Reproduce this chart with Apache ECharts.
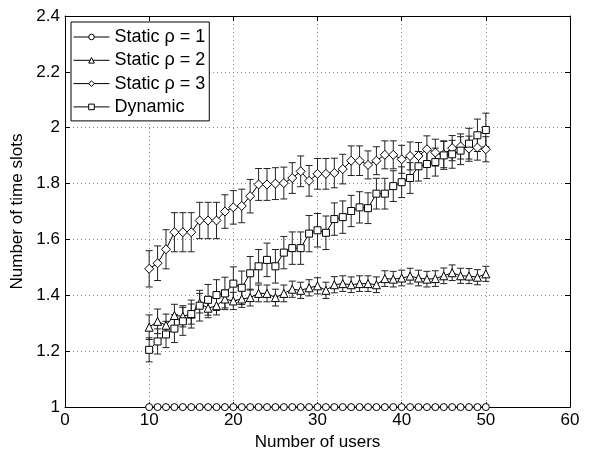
<!DOCTYPE html>
<html>
<head>
<meta charset="utf-8">
<script src="https://cdn.jsdelivr.net/npm/echarts@6/dist/echarts.min.js"></script>
<style>html,body{margin:0;padding:0;background:#fff;}#c{width:592px;height:456px;}</style>
</head>
<body>
<div id="c"></div>
<script>
const users = [10,11,12,13,14,15,16,17,18,19,20,21,22,23,24,25,26,27,28,29,30,31,32,33,34,35,36,37,38,39,40,41,42,43,44,45,46,47,48,49,50];
const rho1 = [1,1,1,1,1,1,1,1,1,1,1,1,1,1,1,1,1,1,1,1,1,1,1,1,1,1,1,1,1,1,1,1,1,1,1,1,1,1,1,1,1];
const rho2 = [1.286,1.307,1.293,1.328,1.325,1.333,1.372,1.354,1.363,1.387,1.380,1.387,1.392,1.407,1.407,1.392,1.407,1.422,1.418,1.427,1.434,1.418,1.438,1.442,1.438,1.442,1.442,1.438,1.460,1.458,1.462,1.469,1.462,1.458,1.460,1.470,1.481,1.470,1.469,1.465,1.477];
const rho3 = [1.495,1.515,1.565,1.626,1.626,1.626,1.668,1.668,1.668,1.700,1.715,1.720,1.755,1.797,1.797,1.800,1.802,1.820,1.844,1.810,1.835,1.835,1.838,1.852,1.882,1.882,1.867,1.882,1.903,1.903,1.887,1.899,1.899,1.923,1.911,1.905,1.927,1.933,1.925,1.929,1.923];
const dyn = [1.205,1.235,1.260,1.281,1.307,1.333,1.363,1.384,1.401,1.407,1.442,1.427,1.479,1.504,1.527,1.504,1.553,1.569,1.569,1.621,1.633,1.624,1.673,1.680,1.702,1.715,1.712,1.764,1.764,1.791,1.805,1.820,1.862,1.870,1.877,1.901,1.905,1.918,1.943,1.973,1.992];
const err1 = [0,0,0,0,0,0,0,0,0,0,0,0,0,0,0,0,0,0,0,0,0,0,0,0,0,0,0,0,0,0,0,0,0,0,0,0,0,0,0,0,0];
const err2 = [0.044,0.044,0.040,0.040,0.038,0.036,0.035,0.034,0.033,0.032,0.031,0.030,0.030,0.030,0.030,0.030,0.030,0.029,0.029,0.029,0.029,0.029,0.029,0.028,0.028,0.028,0.028,0.028,0.028,0.028,0.028,0.028,0.028,0.028,0.028,0.028,0.028,0.027,0.027,0.027,0.027];
const err3 = [0.065,0.062,0.070,0.070,0.070,0.070,0.065,0.065,0.065,0.060,0.060,0.060,0.060,0.057,0.057,0.057,0.057,0.055,0.055,0.055,0.055,0.055,0.053,0.053,0.053,0.053,0.050,0.050,0.050,0.050,0.050,0.050,0.048,0.048,0.048,0.048,0.045,0.045,0.045,0.045,0.045];
const errD = [0.043,0.045,0.047,0.050,0.050,0.050,0.055,0.055,0.055,0.058,0.060,0.060,0.060,0.060,0.060,0.060,0.058,0.058,0.058,0.065,0.060,0.060,0.058,0.058,0.056,0.056,0.055,0.055,0.055,0.055,0.055,0.055,0.053,0.052,0.050,0.050,0.050,0.050,0.055,0.058,0.060];
const xTicks = {min:0, max:60, interval:10};
const yTicks = {min:1, max:2.4, interval:0.2};
const names = ['Static \u03c1 = 1','Static \u03c1 = 2','Static \u03c1 = 3','Dynamic'];

const FONT = 'Liberation Sans, Arial, sans-serif';
const chart = echarts.init(document.getElementById('c'));

function pts(vals){ return users.map((u,i)=>[u, vals[i]]); }
function errData(vals, errs){ return users.map((u,i)=>[u, vals[i]-errs[i], vals[i]+errs[i]]); }
function errSeries(vals, errs){
  return {
    type:'custom', xAxisIndex:0, yAxisIndex:0, silent:true, z:1,
    data: errData(vals, errs),
    encode:{x:0, y:[1,2]},
    renderItem:function(params, api){
      const x = api.value(0);
      const lo = api.coord([x, api.value(1)]);
      const hi = api.coord([x, api.value(2)]);
      const w = 3.5;
      const st = {stroke:'#222', lineWidth:1};
      return {type:'group', children:[
        {type:'line', shape:{x1:lo[0], y1:lo[1], x2:hi[0], y2:hi[1]}, style:st},
        {type:'line', shape:{x1:lo[0]-w, y1:lo[1], x2:lo[0]+w, y2:lo[1]}, style:st},
        {type:'line', shape:{x1:hi[0]-w, y1:hi[1], x2:hi[0]+w, y2:hi[1]}, style:st}
      ]};
    }
  };
}
function lineSeries(name, vals, symbol, size){
  return {
    name:name, type:'line', xAxisIndex:0, yAxisIndex:0, z:3,
    data: pts(vals), symbol:symbol, symbolSize:size, showAllSymbol:true,
    lineStyle:{color:'#000', width:1},
    itemStyle:{color:'#fff', borderColor:'#000', borderWidth:1},
    emphasis:{disabled:true}, animation:false
  };
}
const axisCommon = {
  type:'value',
  axisLine:{show:true, onZero:false, lineStyle:{color:'#000', width:1}},
  axisTick:{show:true, inside:true, length:5, lineStyle:{color:'#000'}},
};
chart.setOption({
  animation:false,
  backgroundColor:'#fff',
  grid:{left:65, right:22, top:16, bottom:42, containLabel:false},
  legend:{
    orient:'vertical', left:71, top:22,
    padding:[6,4,5,2], itemGap:5.3, itemWidth:36, itemHeight:7,
    borderColor:'#000', borderWidth:1, backgroundColor:'#fff',
    lineStyle:{width:1, color:'#000'},
    itemStyle:{borderWidth:1, color:'#fff', borderColor:'#000'},
    textStyle:{fontFamily:FONT, fontSize:18, color:'#000', lineHeight:18},
    data: names
  },
  xAxis:[
    Object.assign({}, axisCommon, {position:'bottom', min:xTicks.min, max:xTicks.max, interval:xTicks.interval,
      name:'Number of users', nameLocation:'middle', nameGap:23,
      nameTextStyle:{fontFamily:FONT, fontSize:17, color:'#000'},
      axisLabel:{fontFamily:FONT, fontSize:17, color:'#000', margin:5},
      splitLine:{show:true, lineStyle:{type:[1,3], color:'#888', width:1}}}),
    Object.assign({}, axisCommon, {position:'top', min:xTicks.min, max:xTicks.max, interval:xTicks.interval,
      axisLabel:{show:false}, splitLine:{show:false}})
  ],
  yAxis:[
    Object.assign({}, axisCommon, {position:'left', min:yTicks.min, max:yTicks.max, interval:yTicks.interval,
      name:'Number of time slots', nameLocation:'middle', nameGap:36, nameRotate:90,
      nameTextStyle:{fontFamily:FONT, fontSize:17, color:'#000'},
      axisLabel:{fontFamily:FONT, fontSize:17, color:'#000', margin:5, formatter:v=>String(+v.toFixed(1))},
      splitLine:{show:true, lineStyle:{type:[1,3], color:'#888', width:1}}}),
    Object.assign({}, axisCommon, {position:'right', min:yTicks.min, max:yTicks.max, interval:yTicks.interval,
      axisLabel:{show:false}, splitLine:{show:false}})
  ],
  series:[
    errSeries(rho2, err2), errSeries(rho3, err3), errSeries(dyn, errD),
    lineSeries(names[0], rho1, 'circle', 7),
    lineSeries(names[1], rho2, 'triangle', 8),
    lineSeries(names[2], rho3, 'diamond', 9),
    lineSeries(names[3], dyn, 'rect', 7)
  ]
});
</script>
</body>
</html>
